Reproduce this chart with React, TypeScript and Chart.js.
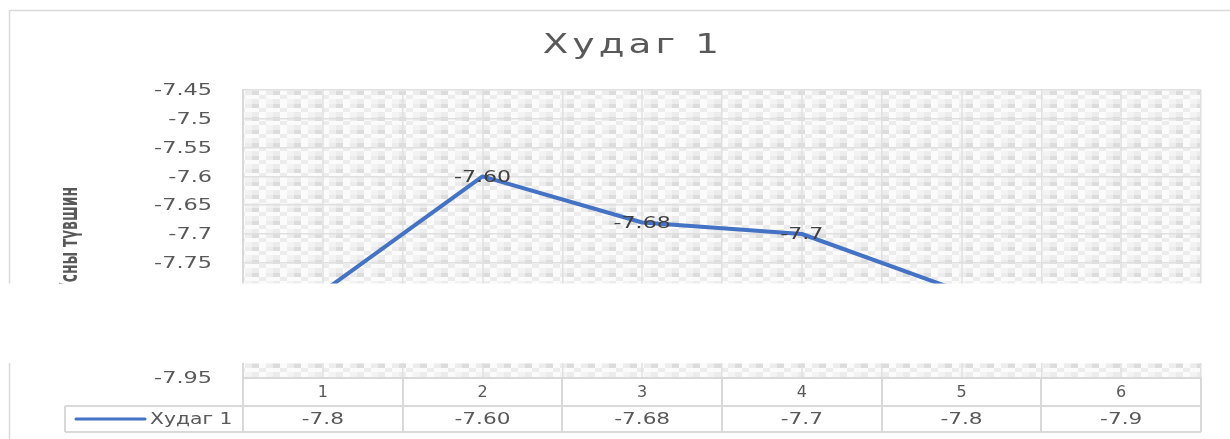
import { useEffect, useRef } from 'react';
import { Chart, registerables } from 'chart.js';

Chart.register(...registerables);

// ---- data ----
const categories = ['1', '2', '3', '4', '5', '6'];
const seriesValues = [-7.8, -7.6, -7.68, -7.7, -7.8, -7.9];
const valueLabels = ['-7.8', '-7.60', '-7.68', '-7.7', '-7.8', '-7.9'];
const seriesName = 'Худаг 1';
const chartTitle = 'Худаг 1';
const yAxisTitle = 'Усны түвшин';
const yMin = -7.95;
const yMax = -7.45;
const yStep = 0.05;
// blank band present in the source picture (value range on the y scale)
const gapFrom = -7.786;
const gapTo = -7.924;

// ---- styles ----
const FONT = '"DejaVu Sans", Verdana, sans-serif';
const NARROW = '"Liberation Sans Narrow", "DejaVu Sans Condensed", "DejaVu Sans", sans-serif';
const TEXT = '#595959';
const LABEL = '#404040';
const GRID = '#e0e0e0';
const TABLE = '#d9d9d9';
const LINE = '#4472C4';

function fmtTick(v: number) {
  return String(parseFloat(Number(v).toFixed(2)));
}

function makePattern(ctx: CanvasRenderingContext2D) {
  const c = document.createElement('canvas');
  c.width = 21;
  c.height = 13;
  const g = c.getContext('2d')!;
  g.fillStyle = '#fbfbfb';
  g.fillRect(0, 0, 21, 13);
  g.fillStyle = '#dcdcdc';
  g.fillRect(0, 0, 7, 4);
  g.fillStyle = '#ececec';
  g.fillRect(14, 0, 7, 4);
  g.fillRect(7, 4, 7, 4);
  g.fillRect(0, 8, 7, 5);
  g.fillStyle = '#f3f3f3';
  g.fillRect(14, 8, 7, 5);
  return ctx.createPattern(c, 'repeat')!;
}

function drawText(
  ctx: CanvasRenderingContext2D,
  text: string,
  x: number,
  y: number,
  align: CanvasTextAlign,
  sx: number,
) {
  ctx.save();
  ctx.translate(x, y);
  ctx.scale(sx, 1);
  ctx.textAlign = align;
  ctx.textBaseline = 'middle';
  ctx.fillText(text, 0, 0);
  ctx.restore();
}

const excelPlugin = {
  id: 'excelLook',
  beforeDraw(chart: any) {
    const { ctx, chartArea: a } = chart;
    ctx.save();
    ctx.fillStyle = '#ffffff';
    ctx.fillRect(0, 0, chart.width, chart.height);
    ctx.fillStyle = makePattern(ctx);
    ctx.fillRect(a.left, a.top, a.right - a.left, a.bottom - a.top);
    ctx.restore();
  },
  beforeDatasetsDraw(chart: any) {
    const { ctx, chartArea: a } = chart;
    const xs = chart.scales.x;
    ctx.save();
    ctx.strokeStyle = GRID;
    ctx.lineWidth = 1.5;
    categories.forEach((_, i) => {
      const px = Math.round(xs.getPixelForValue(i));
      ctx.beginPath();
      ctx.moveTo(px, a.top);
      ctx.lineTo(px, a.bottom);
      ctx.stroke();
    });
    ctx.restore();
  },
  afterDraw(chart: any) {
    const { ctx, chartArea: a } = chart;
    const xs = chart.scales.x;
    const ys = chart.scales.y;
    const meta = chart.getDatasetMeta(0);

    // y tick labels (wide Excel-like glyphs)
    ctx.save();
    ctx.font = `16px ${FONT}`;
    ctx.fillStyle = TEXT;
    ys.ticks.forEach((t: any) => {
      drawText(ctx, fmtTick(t.value), a.left - 31, ys.getPixelForValue(t.value) + 1, 'right', 1.4);
    });
    ctx.restore();

    // data labels centred on points
    ctx.save();
    ctx.font = `16px ${FONT}`;
    ctx.fillStyle = LABEL;
    meta.data.forEach((pt: any, i: number) => {
      drawText(ctx, valueLabels[i], pt.x, pt.y + 1, 'center', 1.38);
    });
    ctx.restore();

    // chart title
    ctx.save();
    ctx.font = `27px ${FONT}`;
    ctx.letterSpacing = '3px';
    ctx.fillStyle = TEXT;
    drawText(ctx, chartTitle, chart.width / 2 + 18, 46, 'center', 1.38);
    ctx.restore();

    // y axis title (condensed bold)
    ctx.save();
    ctx.font = `bold 24px ${NARROW}`;
    ctx.fillStyle = TEXT;
    const w = ctx.measureText(yAxisTitle).width;
    const sx = 106 / w;
    ctx.translate(71, (ys.top + ys.bottom) / 2 + 6);
    ctx.rotate(-Math.PI / 2);
    drawText(ctx, yAxisTitle, 0, 0, 'center', sx);
    ctx.restore();

    // data table
    const half = (xs.getPixelForValue(1) - xs.getPixelForValue(0)) / 2;
    const headTop = a.bottom;
    const rowTop = xs.bottom;
    const rowBottom = rowTop + 26;
    const legendLeft = 65;
    ctx.save();
    ctx.strokeStyle = TABLE;
    ctx.lineWidth = 2;
    ctx.beginPath();
    ctx.moveTo(a.left, headTop);
    ctx.lineTo(a.right, headTop);
    ctx.moveTo(legendLeft, rowTop);
    ctx.lineTo(a.right, rowTop);
    ctx.moveTo(legendLeft, rowBottom);
    ctx.lineTo(a.right, rowBottom);
    ctx.moveTo(legendLeft, rowTop);
    ctx.lineTo(legendLeft, rowBottom);
    for (let i = 0; i <= categories.length; i++) {
      const px = Math.round(xs.getPixelForValue(i) - half);
      ctx.moveTo(px, headTop);
      ctx.lineTo(px, rowBottom);
    }
    ctx.stroke();

    const rowMid = (rowTop + rowBottom) / 2;
    ctx.strokeStyle = LINE;
    ctx.lineWidth = 3;
    ctx.lineCap = 'round';
    ctx.beginPath();
    ctx.moveTo(76, rowMid);
    ctx.lineTo(145, rowMid);
    ctx.stroke();

    ctx.font = `16px ${FONT}`;
    ctx.fillStyle = TEXT;
    drawText(ctx, seriesName, 150, rowMid + 1, 'left', 1.27);
    valueLabels.forEach((t, i) => {
      drawText(ctx, t, xs.getPixelForValue(i), rowMid + 1, 'center', 1.35);
    });
    ctx.restore();

    // outer frame
    ctx.save();
    ctx.strokeStyle = TABLE;
    ctx.lineWidth = 1.5;
    ctx.beginPath();
    ctx.moveTo(9.5, chart.height);
    ctx.lineTo(9.5, 10.5);
    ctx.lineTo(chart.width, 10.5);
    ctx.stroke();
    ctx.restore();

    // blank band present in the source image
    ctx.save();
    ctx.fillStyle = '#ffffff';
    const g1 = ys.getPixelForValue(gapFrom);
    const g2 = ys.getPixelForValue(gapTo);
    ctx.fillRect(0, g1, chart.width, g2 - g1);
    ctx.restore();
  },
};

export default function App() {
  const ref = useRef<HTMLCanvasElement>(null);
  useEffect(() => {
    const chart = new Chart(ref.current!, {
      type: 'line',
      data: {
        labels: categories,
        datasets: [
          {
            label: seriesName,
            data: seriesValues,
            borderColor: LINE,
            backgroundColor: LINE,
            borderWidth: 4,
            pointRadius: 0,
            pointHoverRadius: 0,
            tension: 0,
            borderJoinStyle: 'round',
            borderCapStyle: 'round',
          },
        ],
      },
      options: {
        responsive: false,
        animation: false,
        events: [],
        layout: { padding: { top: 90, right: 29, bottom: 33, left: 0 } },
        plugins: {
          legend: { display: false },
          title: { display: false },
          tooltip: { enabled: false },
        },
        scales: {
          x: {
            offset: true,
            grid: { offset: true, color: GRID, lineWidth: 1.5, drawTicks: false },
            border: { color: TABLE, width: 2 },
            ticks: { color: TEXT, font: { family: FONT, size: 16 }, padding: 5, maxRotation: 0 },
            afterFit: (s: any) => {
              s.height = 28;
            },
          },
          y: {
            min: yMin,
            max: yMax,
            grid: { color: GRID, lineWidth: 1.5, drawTicks: false },
            border: { color: TABLE, width: 2 },
            ticks: {
              display: false,
              stepSize: yStep,
              callback: (v: any) => fmtTick(v),
            },
            afterFit: (s: any) => {
              s.width = 243;
            },
          },
        },
      },
      plugins: [excelPlugin],
    });
    return () => chart.destroy();
  }, []);
  return (
    <div style={{ position: 'fixed', left: 0, top: 0, width: 1230, height: 439, background: '#fff' }}>
      <canvas ref={ref} width={1230} height={439} style={{ display: 'block' }} />
    </div>
  );
}
